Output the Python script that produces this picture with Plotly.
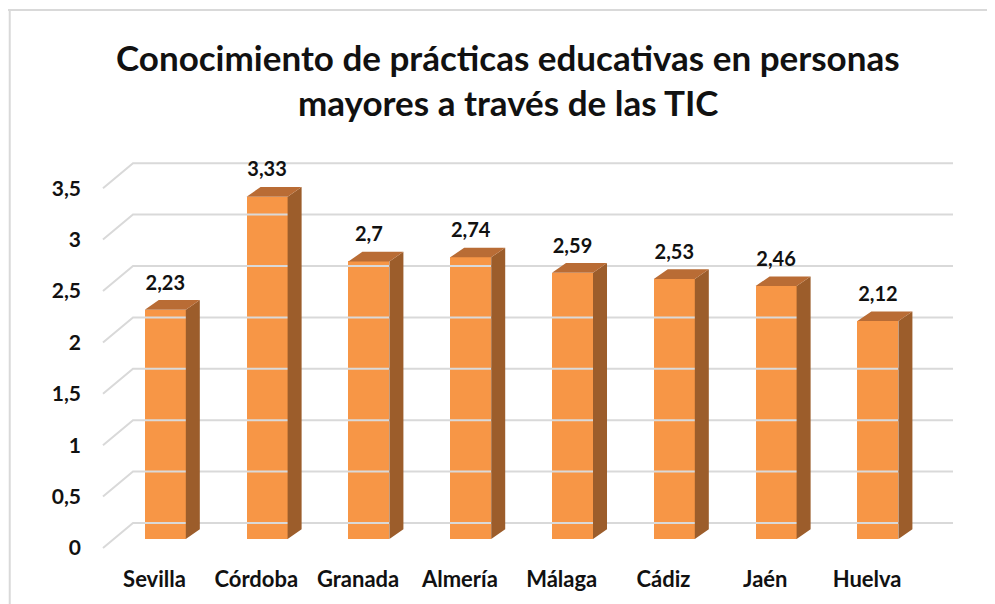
import plotly.graph_objects as go

# ---- data ----
categories = ["Sevilla", "Córdoba", "Granada", "Almería", "Málaga", "Cádiz", "Jaén", "Huelva"]
values = [2.23, 3.33, 2.70, 2.74, 2.59, 2.53, 2.46, 2.12]
value_labels = ["2,23", "3,33", "2,7", "2,74", "2,59", "2,53", "2,46", "2,12"]
y_tickvals = [0, 0.5, 1, 1.5, 2, 2.5, 3, 3.5]
y_ticktext = ["0", "0,5", "1", "1,5", "2", "2,5", "3", "3,5"]
title_lines = ["Conocimiento de prácticas educativas en personas",
               "mayores a través de las TIC"]

# ---- pseudo-3D geometry (in axis units) ----
DX, DY = 0.2947, 0.2432          # front plane -> back wall offset
FLOOR_L, WALL_R = -0.506, 7.844  # floor left edge (front), wall right edge (back)
BAR_DEPTH = 0.36                 # depth position of bar front face
BAR_W = 0.403
BX, BY = 0.1375, 0.094           # bar side depth offset

FONT = "Lato"
FRONT_C, SIDE_C, TOP_C = "#F79646", "#9C5D2B", "#B96C35"
GRID_C = "#D9D9D9"
TXT_C = "#111111"

# page has an 8px body margin, so the figure is laid out 8px in from the window corner
W, H = 987, 596
L, R, T, B = 87, 35, 132, 44
X0PX, XSTEP = 146.5, 101.8       # pixel of first category (front plane), px per category
Y0PX, YSTEP = 540.0, 102.8       # pixel of value 0 (front plane), px per unit
x_range = [(L - X0PX) / XSTEP, (W - R - X0PX) / XSTEP]
y_range = [(Y0PX - (H - B)) / YSTEP, (Y0PX - T) / YSTEP]

fig = go.Figure()

# gridlines: diagonal on left side wall + horizontal on back wall
gx, gy = [], []
for v in y_tickvals:
    gx += [FLOOR_L, FLOOR_L + DX, WALL_R, None]
    gy += [v, v + DY, v + DY, None]
fig.add_trace(go.Scatter(x=gx, y=gy, mode="lines", line=dict(color=GRID_C, width=2),
                         hoverinfo="skip", showlegend=False, cliponaxis=False))

base = BAR_DEPTH * DY
xc = [i + BAR_DEPTH * DX for i in range(len(values))]

# front faces
fig.add_trace(go.Bar(x=xc, y=values, base=base, width=BAR_W,
                     marker=dict(color=FRONT_C, line=dict(width=0)),
                     showlegend=False, hoverinfo="skip"))

# side and top faces
sx, sy, tx, ty = [], [], [], []
for c, v in zip(xc, values):
    xl, xr = c - BAR_W / 2, c + BAR_W / 2
    yb, yt = base, base + v
    sx += [xr, xr + BX, xr + BX, xr, xr, None]
    sy += [yb, yb + BY, yt + BY, yt, yb, None]
    tx += [xl, xl + BX, xr + BX, xr, xl, None]
    ty += [yt, yt + BY, yt + BY, yt, yt, None]
fig.add_trace(go.Scatter(x=sx, y=sy, mode="lines", fill="toself", fillcolor=SIDE_C,
                         line=dict(width=0, color=SIDE_C), hoverinfo="skip", showlegend=False))
fig.add_trace(go.Scatter(x=tx, y=ty, mode="lines", fill="toself", fillcolor=TOP_C,
                         line=dict(width=0, color=TOP_C), hoverinfo="skip", showlegend=False))

# value labels
fig.add_trace(go.Scatter(x=xc, y=[base + v + 0.245 for v in values], mode="text",
                         text=value_labels, textposition="middle center",
                         textfont=dict(family=FONT, size=20, color=TXT_C, weight="bold"),
                         hoverinfo="skip", showlegend=False, cliponaxis=False))

# title, two lines
pw, ph = W - L - R, H - T - B
for line_text, ypx in zip(title_lines, [49, 94]):
    fig.add_annotation(text=line_text, xref="paper", yref="paper",
                       x=(500 - L) / pw, y=((H - B) - ypx) / ph,
                       xanchor="center", yanchor="middle", showarrow=False,
                       font=dict(family=FONT, size=35, color=TXT_C, weight="bold"))

# chart-area border (top and left)
pl = (0 - L) / pw
pt = ((H - B) - 2) / ph
pb = ((H - B) - H - 5) / ph
fig.add_shape(type="line", xref="paper", yref="paper", x0=pl, x1=1.2, y0=pt, y1=pt,
              line=dict(color=GRID_C, width=2))
fig.add_shape(type="line", xref="paper", yref="paper", x0=pl + 0.002, x1=pl + 0.002, y0=pb, y1=pt,
              line=dict(color=GRID_C, width=2))

fig.update_layout(
    width=W, height=H,
    margin=dict(l=L, r=R, t=T, b=B, autoexpand=False),
    paper_bgcolor="white", plot_bgcolor="white",
    xaxis=dict(range=x_range, tickvals=list(range(len(categories))), ticktext=categories,
               showgrid=False, zeroline=False, showline=False, ticks="",
               tickfont=dict(family=FONT, size=22, color=TXT_C, weight="bold"),
               ticklabelstandoff=4),
    yaxis=dict(range=y_range, tickvals=y_tickvals, ticktext=y_ticktext,
               showgrid=False, zeroline=False, showline=False, ticks="",
               tickfont=dict(family=FONT, size=21, color=TXT_C, weight="bold"),
               ticklabelstandoff=13),
    bargap=0,
)

fig.write_html("out.html")
